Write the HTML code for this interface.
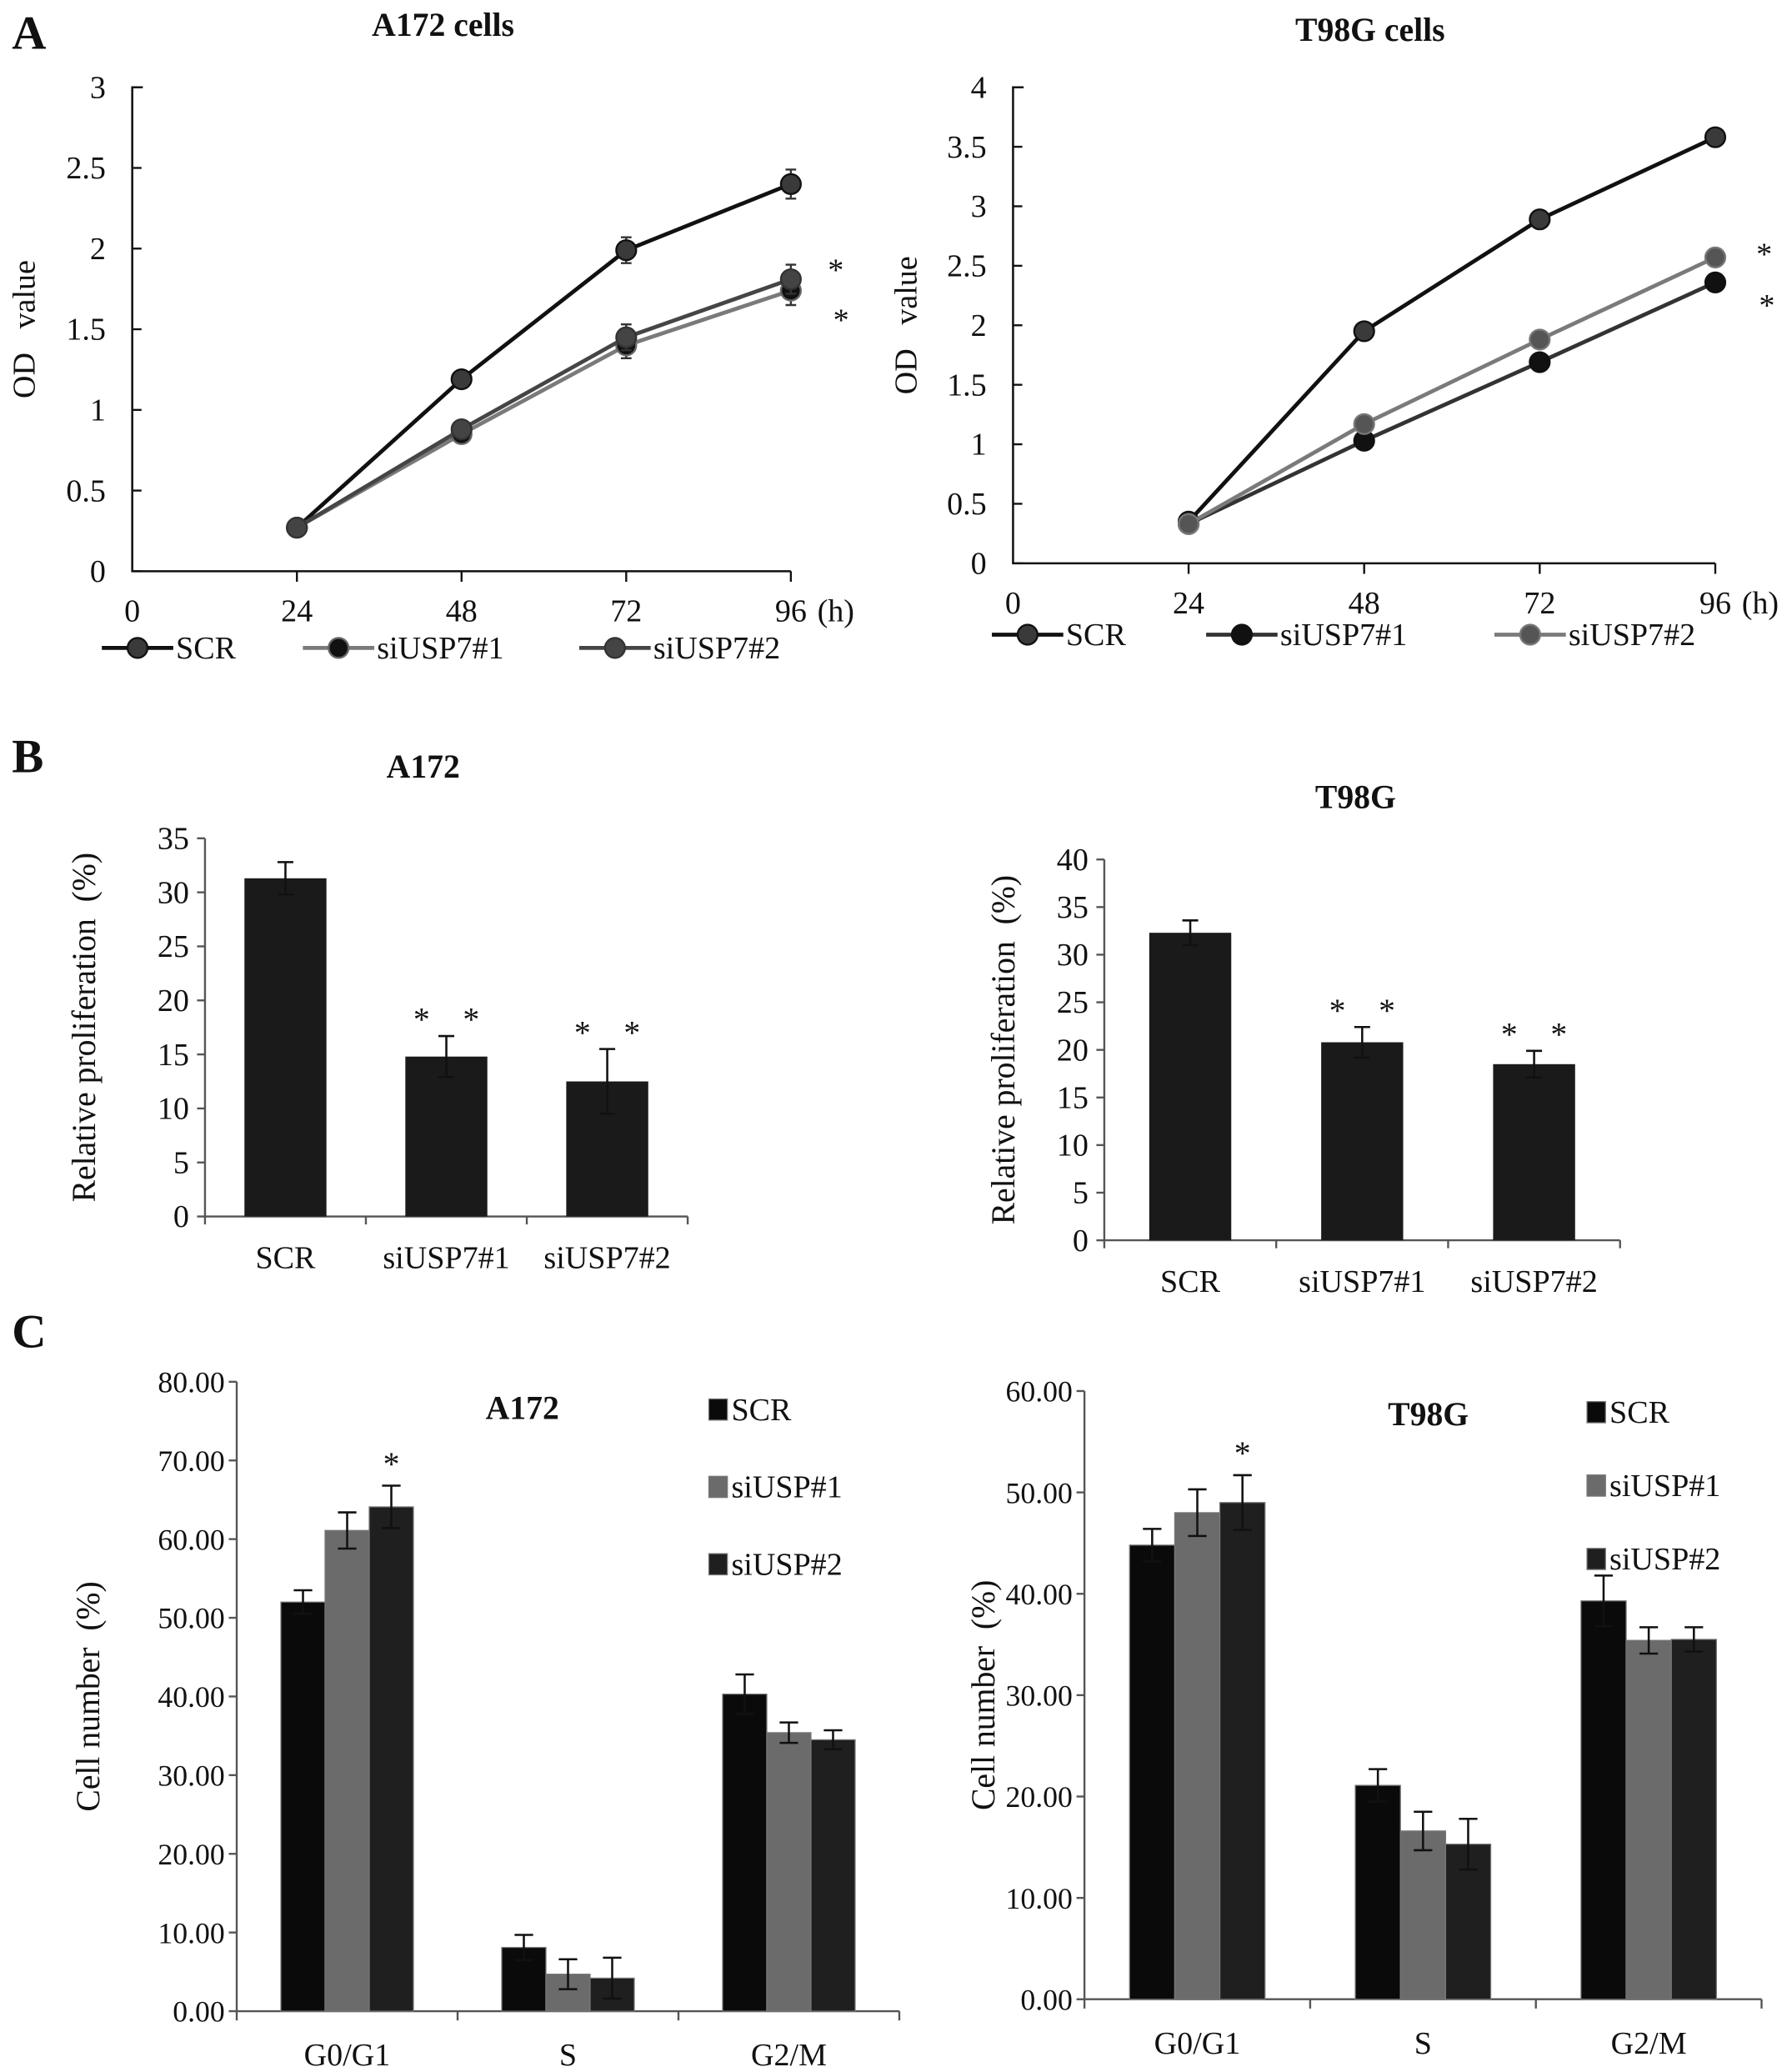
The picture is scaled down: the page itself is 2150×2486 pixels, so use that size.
<!DOCTYPE html>
<html><head><meta charset="utf-8"><style>
html,body{margin:0;padding:0;background:#fff}
svg{display:block}
text{font-family:"Liberation Serif",serif;fill:#111}
</style></head><body>
<svg id="fig" width="2150" height="2486" viewBox="0 0 1355 1567" preserveAspectRatio="none" xmlns="http://www.w3.org/2000/svg">
<text x="9" y="37" font-size="36" font-weight="bold">A</text>
<text x="9" y="584" font-size="36" font-weight="bold">B</text>
<text x="9" y="1019" font-size="36" font-weight="bold">C</text>
</svg>
<script>
// ---- Data ----
const hours=[24,48,72,96];
const xTicksA=[0,24,48,72,96];
const a172SCR=[0.27,1.19,1.99,2.40];
const a172Si1=[0.27,0.85,1.40,1.74];
const a172Si2=[0.27,0.88,1.45,1.81];
const a172Err=[0.03,0.04,0.08,0.09];
const t98SCR=[0.35,1.95,2.89,3.58];
const t98Si1=[0.33,1.03,1.69,2.36];
const t98Si2=[0.33,1.17,1.88,2.57];
const t98Err=[0.03,0.04,0.06,0.07];
const a172TicksA=[0,0.5,1,1.5,2,2.5,3];
const t98TicksA=[0,0.5,1,1.5,2,2.5,3,3.5,4];
const bCats=["SCR","siUSP7#1","siUSP7#2"];
const bA172=[31.3,14.8,12.5];
const bA172Err=[1.5,1.9,3.0];
const bT98=[32.3,20.8,18.5];
const bT98Err=[1.3,1.6,1.4];
const bA172Ticks=[0,5,10,15,20,25,30,35];
const bT98Ticks=[0,5,10,15,20,25,30,35,40];
const cCats=["G0/G1","S","G2/M"];
const cSeries=["SCR","siUSP#1","siUSP#2"];
const cA172SCR=[52.0,8.1,40.3];
const cA172Si1=[61.1,4.7,35.4];
const cA172Si2=[64.1,4.2,34.5];
const cA172Err1=[1.5,1.6,2.5];
const cA172Err2=[2.3,1.9,1.3];
const cA172Err3=[2.7,2.6,1.2];
const cT98SCR=[44.8,21.1,39.3];
const cT98Si1=[48.0,16.6,35.4];
const cT98Si2=[49.0,15.3,35.5];
const cT98Err1=[1.6,1.6,2.5];
const cT98Err2=[2.3,1.9,1.3];
const cT98Err3=[2.7,2.5,1.2];
const cA172Ticks=[0,10,20,30,40,50,60,70,80];
const cT98Ticks=[0,10,20,30,40,50,60];

const svg=document.getElementById('fig');
const NS='http://www.w3.org/2000/svg';
function mk(tag,attrs,parent){const e=document.createElementNS(NS,tag);for(const k in attrs)e.setAttribute(k,attrs[k]);(parent||svg).appendChild(e);return e;}
function txt(x,y,s,size,anchor,parent,extra){const t=mk('text',Object.assign({x:x,y:y,'font-size':size,'text-anchor':anchor||'start'},extra||{}),parent);t.textContent=s;return t;}
function lin(a,b,c,d){return v=>c+(v-a)*(d-c)/(b-a);}
const FS=24;

// ---- Line charts ----
function lineChart(o){
  const g=mk('g',{});
  
  
  const X=lin(0,96,o.x0,o.x1), Y=lin(0,o.ymax,o.y0,o.y1);
  const t=txt(o.titleX,o.titleY,o.title,25,'middle',g,{'font-weight':'bold'});
  
  const ax=mk('path',{d:`M${o.x0+8},${o.y1} H${o.x0} V${o.y0} H${X(96)}`,fill:'none',stroke:'#111','stroke-width':1.6},g);
  
  o.yticks.forEach(v=>{mk('line',{x1:o.x0,x2:o.x0+7,y1:Y(v),y2:Y(v),stroke:'#111','stroke-width':1.5},g);
    const l=txt(o.x0-20,Y(v)+8,String(v),FS,'end',g);});
  xTicksA.forEach(v=>{if(v>0)mk('line',{x1:X(v),x2:X(v),y1:o.y0,y2:o.y0+8,stroke:'#111','stroke-width':1.5},g);
    const l=txt(X(v),o.y0+38,String(v),FS,'middle',g);});
  const h=txt(X(96)+20,o.y0+38,'(h)',FS,'start',g);
  const yl=txt(0,0,'OD\u00a0\u00a0\u00a0value',FS,'middle',g,{transform:`translate(${o.ylx},${(o.y0+o.y1)/2}) rotate(-90)`});
  
  o.series.forEach(s=>{
    const pts=s.vals.map((v,i)=>X(hours[i])+','+Y(v)).join(' ');
    const pl=mk('polyline',{points:pts,fill:'none',stroke:s.line,'stroke-width':3},g);
    
    s.vals.forEach((v,i)=>{
      const e=o.err[i];
      mk('path',{d:`M${X(hours[i])},${Y(v+e)}V${Y(v-e)}M${X(hours[i])-4},${Y(v+e)}h8M${X(hours[i])-4},${Y(v-e)}h8`,stroke:'#333','stroke-width':1.5,fill:'none'},g);
      const c=mk('circle',{cx:X(hours[i]),cy:Y(v),r:7.5,fill:s.fill,stroke:s.edge,'stroke-width':1.5},g);
      
    });
  });
  o.stars.forEach(p=>{const s=txt(p[0],p[1],'*',24,'middle',g,{'font-family':'Liberation Sans'});});
  o.legend.forEach(l=>{
    const lg=mk('g',{},g);
    
    mk('line',{x1:l.x,x2:l.x+54,y1:o.legY,y2:o.legY,stroke:l.line,'stroke-width':3},lg);
    mk('circle',{cx:l.x+27,cy:o.legY,r:7.5,fill:l.fill,stroke:l.edge,'stroke-width':1.5},lg);
    txt(l.x+56,o.legY+8,l.label,FS,'start',lg);
  });
}
lineChart({name:'a172-growth-chart',title:'A172 cells',titleX:335,titleY:27,x0:100,x1:598,y0:432,y1:66,ymax:3,ylx:26,yticks:a172TicksA,err:a172Err,
  series:[{key:'scr',vals:a172SCR,line:'#111',fill:'#3a3a3a',edge:'#111'},{key:'siusp7-1',vals:a172Si1,line:'#7a7a7a',fill:'#111',edge:'#666'},{key:'siusp7-2',vals:a172Si2,line:'#454545',fill:'#444',edge:'#333'}],
  stars:[[632,212],[636,250]],legY:490,
  legend:[{x:77,label:'SCR',line:'#111',fill:'#3a3a3a',edge:'#111'},{x:229,label:'siUSP7#1',line:'#7a7a7a',fill:'#111',edge:'#666'},{x:438,label:'siUSP7#2',line:'#454545',fill:'#444',edge:'#333'}]});
lineChart({name:'t98g-growth-chart',title:'T98G cells',titleX:1036,titleY:31,x0:766,x1:1297,y0:426,y1:66,ymax:4,ylx:693,yticks:t98TicksA,err:t98Err,
  series:[{key:'scr',vals:t98SCR,line:'#111',fill:'#3a3a3a',edge:'#111'},{key:'siusp7-1',vals:t98Si1,line:'#333',fill:'#111',edge:'#111'},{key:'siusp7-2',vals:t98Si2,line:'#7a7a7a',fill:'#555',edge:'#777'}],
  stars:[[1334,200],[1336,239]],legY:480,
  legend:[{x:750,label:'SCR',line:'#111',fill:'#3a3a3a',edge:'#111'},{x:912,label:'siUSP7#1',line:'#333',fill:'#111',edge:'#111'},{x:1130,label:'siUSP7#2',line:'#7a7a7a',fill:'#555',edge:'#777'}]});

// ---- B bar charts ----
function barChart(o){
  const g=mk('g',{});
  
  
  const Y=lin(0,o.ymax,o.y0,o.y1);
  const t=txt(o.titleX,o.titleY,o.title,25,'middle',g,{'font-weight':'bold'});
  mk('path',{d:`M${o.x0},${o.y1}V${o.y0}H${o.x1}`,fill:'none',stroke:'#555','stroke-width':1.5},g);
  o.yticks.forEach(v=>{mk('line',{x1:o.x0-6,x2:o.x0,y1:Y(v),y2:Y(v),stroke:'#555','stroke-width':1.5},g);
    const l=txt(o.x0-12,Y(v)+8,String(v),FS,'end',g);});
  const step=(o.x1-o.x0)/bCats.length;
  for(let i=0;i<=bCats.length;i++)mk('line',{x1:o.x0+i*step,x2:o.x0+i*step,y1:o.y0,y2:o.y0+6,stroke:'#555','stroke-width':1.5},g);
  bCats.forEach((c,i)=>{
    const cx=o.x0+step*(i+0.5),v=o.vals[i],e=o.err[i];
    const r=mk('rect',{x:cx-31,y:Y(v),width:62,height:o.y0-Y(v),fill:'#1a1a1a'},g);
    
    mk('path',{d:`M${cx},${Y(v+e)}V${Y(v-e)}M${cx-6},${Y(v+e)}h12M${cx-6},${Y(v-e)}h12`,stroke:'#111','stroke-width':1.6,fill:'none'},g);
    const l=txt(cx,o.y0+39,c,FS,'middle',g);
    if(i>0){const s=txt(cx,Y(v+e)-4,'*\u00a0\u00a0\u00a0\u00a0*',25,'middle',g,{'font-family':'Liberation Sans'});}
  });
  const yl=txt(0,0,'Relative proliferation\u00a0\u00a0(%)',25,'middle',g,{transform:`translate(${o.ylx},${(o.y0+o.y1)/2}) rotate(-90)`});
  
}
barChart({name:'a172-proliferation-chart',title:'A172',titleX:320,titleY:588,x0:155,x1:520,y0:920,y1:634,ymax:35,yticks:bA172Ticks,vals:bA172,err:bA172Err,ylx:72});
barChart({name:'t98g-proliferation-chart',title:'T98G',titleX:1025,titleY:611,x0:835,x1:1225,y0:938,y1:650,ymax:40,yticks:bT98Ticks,vals:bT98,err:bT98Err,ylx:767});

// ---- C grouped bar charts ----
const cColors=['#0a0a0a','#6b6b6b','#1f1f1f'];
function groupChart(o){
  const g=mk('g',{});
  
  
  const Y=lin(0,o.ymax,o.y0,o.y1);
  const t=txt(o.titleX,o.titleY,o.title,25,'middle',g,{'font-weight':'bold'});
  mk('path',{d:`M${o.x0},${o.y1}V${o.y0}H${o.x1}`,fill:'none',stroke:'#555','stroke-width':1.5},g);
  o.yticks.forEach(v=>{mk('line',{x1:o.x0-6,x2:o.x0,y1:Y(v),y2:Y(v),stroke:'#555','stroke-width':1.5},g);
    const l=txt(o.x0-9,Y(v)+8,v.toFixed(2),22.5,'end',g);});
  const step=(o.x1-o.x0)/cCats.length;
  for(let i=0;i<=cCats.length;i++)mk('line',{x1:o.x0+i*step,x2:o.x0+i*step,y1:o.y0,y2:o.y0+7,stroke:'#555','stroke-width':1.5},g);
  const bw=step*0.2;
  cCats.forEach((c,i)=>{
    const cx=o.x0+step*(i+0.5);
    o.series.forEach((s,j)=>{
      const v=s[i],e=o.errs[j][i],x=cx+(j-1.5)*bw,bx=x+bw/2;
      const r=mk('rect',{x:x,y:Y(v),width:bw,height:o.y0-Y(v),fill:cColors[j],stroke:'#777','stroke-width':0.8},g);
      
      mk('path',{d:`M${bx},${Y(v+e)}V${Y(v-e)}M${bx-7},${Y(v+e)}h14M${bx-7},${Y(v-e)}h14`,stroke:'#111','stroke-width':1.6,fill:'none'},g);
      if(i===0&&j===2){const st=txt(bx,Y(v+e)-8,'*',25,'middle',g,{'font-family':'Liberation Sans'});}
    });
    const l=txt(cx,o.y0+41,c,FS,'middle',g);
  });
  cSeries.forEach((s,j)=>{
    const lg=mk('g',{},g);
    
    const y=o.legY+j*o.legStep;
    mk('rect',{x:o.legX,y:y-8,width:14,height:16,fill:cColors[j],stroke:'#777','stroke-width':0.8},lg);
    txt(o.legX+17,y+8,s,FS,'start',lg);
  });
  const yl=txt(0,0,'Cell number\u00a0\u00a0(%)',25,'middle',g,{transform:`translate(${o.ylx},${(o.y0+o.y1)/2}) rotate(-90)`});
  
}
groupChart({name:'a172-cell-cycle-chart',title:'A172',titleX:395,titleY:1073,x0:179,x1:680,y0:1521,y1:1045,ymax:80,yticks:cA172Ticks,
  series:[cA172SCR,cA172Si1,cA172Si2],errs:[cA172Err1,cA172Err2,cA172Err3],legX:536,legY:1066,legStep:58.5,ylx:75});
groupChart({name:'t98g-cell-cycle-chart',title:'T98G',titleX:1080,titleY:1078,x0:820,x1:1332,y0:1512,y1:1052,ymax:60,yticks:cT98Ticks,
  series:[cT98SCR,cT98Si1,cT98Si2],errs:[cT98Err1,cT98Err2,cT98Err3],legX:1200,legY:1068,legStep:55.5,ylx:752});
</script>
</body></html>
